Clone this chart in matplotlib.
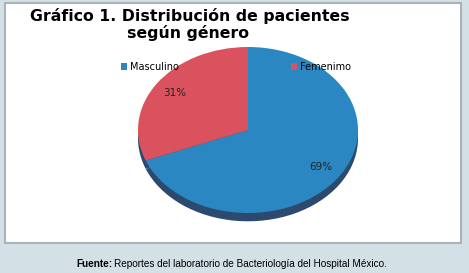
import matplotlib.pyplot as plt
from matplotlib.patches import Rectangle

labels = ['Masculino', 'Femenimo']
values = [69, 31]
colors = ['#2a87c2', '#d9525e']
shadow_colors = ['#2c4a70', '#2c4a70']

W, H = 469, 273
fig = plt.figure(figsize=(W / 100, H / 100), dpi=100)
fig.patch.set_facecolor('#d3e0e6')

# white panel with grey border
fig.patches.append(Rectangle((5 / W, 1 - 243 / H), 456 / W, 240 / H,
                             transform=fig.transFigure, facecolor='white',
                             edgecolor='#a9b3b8', linewidth=1.5, zorder=-10))

# pie axes (elliptical: aspect left auto)
x0, x1, y0, y1 = 138, 358, 47, 213
ax = fig.add_axes([x0 / W, 1 - y1 / H, (x1 - x0) / W, (y1 - y0) / H])
ax.set_zorder(1)
ax.set_xlim(-1, 1)
ax.set_ylim(-1, 1)
ax.axis('off')

# shadow
sh, _ = ax.pie(values, colors=shadow_colors, startangle=90, counterclock=False,
               center=(0, -0.1), radius=1.0)
for w in sh:
    w.set_clip_on(False)

wedges, texts, autotexts = ax.pie(values, colors=colors, startangle=90,
                                  counterclock=False, autopct='%d%%',
                                  pctdistance=0.8,
                                  textprops={'fontsize': 7.5, 'color': '#222222'})
for w in wedges:
    w.set_clip_on(False)
ax.set_aspect('auto')
ax.set_xlim(-1, 1)
ax.set_ylim(-1, 1)

leg = ax.legend(wedges, labels, ncol=2, loc='center',
                bbox_to_anchor=(236 / W, 1 - 67 / H), bbox_transform=fig.transFigure,
                frameon=False, fontsize=7, handlelength=0.6, handleheight=0.6,
                handletextpad=0.3, columnspacing=11.5)

fig.text(30 / W, 1 - 16 / H, 'Gráfico 1. Distribución de pacientes',
         fontsize=11.3, fontweight='bold', ha='left', va='center')
fig.text(188 / W, 1 - 33 / H, 'según género',
         fontsize=11.3, fontweight='bold', ha='center', va='center')

fig.text(76 / W, 1 - 264 / H, 'Fuente:', fontsize=7.2, fontweight='bold',
         family='Liberation Sans', ha='left', va='center')
fig.text(114 / W, 1 - 264 / H, 'Reportes del laboratorio de Bacteriología del Hospital México.',
         fontsize=7.2, family='Liberation Sans', ha='left', va='center')

fig.savefig('out.png', dpi=100, facecolor=fig.get_facecolor())
